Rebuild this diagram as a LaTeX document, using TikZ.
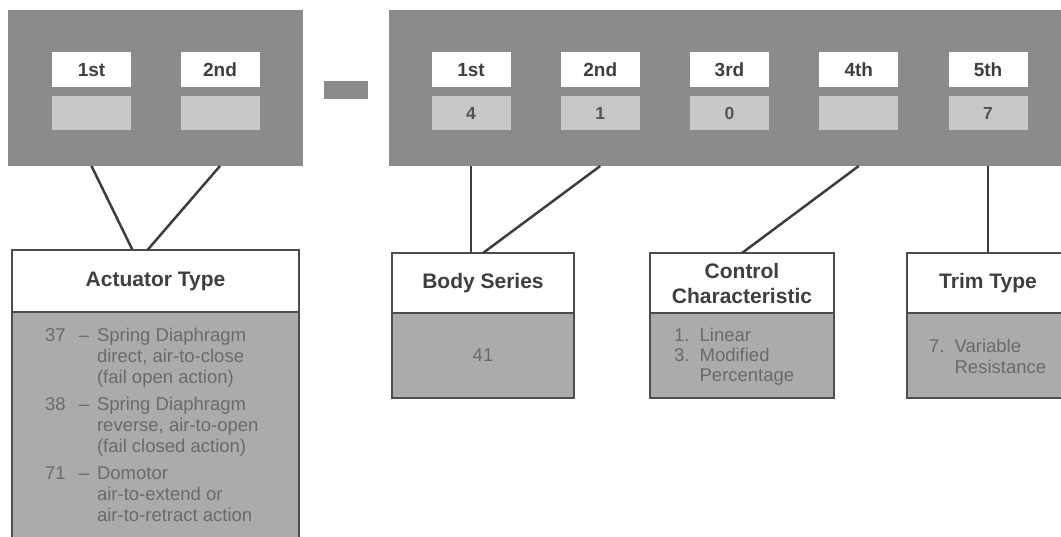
\documentclass[tikz,border=0pt]{standalone}
\usepackage{fontspec}
\setmainfont{Liberation Sans}
\usetikzlibrary{positioning}
\definecolor{panelgray}{HTML}{8B8B8B}
\definecolor{cellgray}{HTML}{C8C8C8}
\definecolor{listgray}{HTML}{ABABAB}
\definecolor{boxline}{HTML}{4D4D4D}
\definecolor{linegray}{HTML}{3D3D3D}
\definecolor{headtext}{HTML}{3F3F3F}
\definecolor{valuetext}{HTML}{555555}
\definecolor{itemtext}{HTML}{6A6A6A}

\begin{document}
\begin{tikzpicture}[x=1pt,y=-1pt]
 \tikzset{panel node/.style={rectangle, fill=panelgray,
 		inner sep=0pt, outer sep=0pt}, }
 \tikzset{digit node/.style={rectangle, fill=white,
 		minimum width=79pt, minimum height=35pt, inner sep=0pt, outer sep=0pt,
 		font=\fontsize{19}{20}\selectfont\bfseries, text=headtext}, }
 \tikzset{value node/.style={rectangle, fill=cellgray,
 		minimum width=79pt, minimum height=34pt, inner sep=0pt, outer sep=0pt,
 		font=\fontsize{17.5}{20}\selectfont\bfseries, text=valuetext}, }
 \tikzset{head node/.style={rectangle, draw=boxline, line width=2pt, fill=white,
 		align=center, inner sep=0pt, outer sep=0pt,
 		font=\fontsize{21}{25}\selectfont\bfseries, text=headtext}, }
 \tikzset{list node/.style={rectangle, draw=boxline, line width=2pt, fill=listgray,
 		inner sep=0pt, outer sep=0pt}, }
 \tikzset{item node/.style={inner sep=0pt, align=left,
 		font=\fontsize{18.5}{21}\selectfont, text=itemtext}, }
 \tikzset{linea/.style={draw=linegray, line width=2.5pt},}
 \useasboundingbox (0,0) rectangle (1061,537);
 \clip (0,0) rectangle (1061,537);
 % code panels
 \node[panel node, minimum width=295pt, minimum height=156pt] (lpanel) at (155.5,88) {};
 \node[panel node, minimum width=44pt, minimum height=18pt] (dash) at (346,90) {};
 \node[panel node, minimum width=681pt, minimum height=156pt] (rpanel) at (729.5,88) {};
 \foreach \n/\x/\t in {1/91.5/1st,2/220/2nd}{
 \node[digit node] (ld\n) at (\x,70) {\t};
 \node[value node] (lv\n)[below=8.5pt of ld\n] {};
 }
 \foreach \n/\x/\t/\v in {1/471/1st/4,2/600.25/2nd/1,3/729.5/3rd/0,4/858.75/4th/{},5/988/5th/7}{
 \node[digit node] (rd\n) at (\x,70) {\t};
 \node[value node] (rv\n)[below=8.5pt of rd\n] {\v};
 }
 % meaning boxes
 \node[head node, minimum width=287pt, minimum height=62pt] (athead) at (155.5,281) {Actuator Type};
 \node[list node, minimum width=287pt, minimum height=240pt] (atlist)[below=0pt of athead] {};
 \node[head node, minimum width=182pt, minimum height=60pt] (bshead) at (483,283) {Body Series};
 \node[list node, minimum width=182pt, minimum height=85pt] (bslist)[below=0pt of bshead] {};
 \node[head node, minimum width=184pt, minimum height=60pt] (cchead) at (742,283) {Control\\Characteristic};
 \node[list node, minimum width=184pt, minimum height=85pt] (cclist)[below=0pt of cchead] {};
 \node[head node, minimum width=162pt, minimum height=60pt] (tthead) at (988,283) {Trim Type};
 \node[list node, minimum width=162pt, minimum height=85pt] (ttlist)[below=0pt of tthead] {};
 \node[item node, anchor=north west] (atitems) at ([xshift=33pt,yshift=-15pt]atlist.north west)
 {\begin{tabular}{@{}r@{\hspace{13pt}}c@{\hspace{8pt}}l@{}}
 37 & -- & Spring Diaphragm\\
  & & direct, air-to-close\\
  & & (fail open action)\\[6pt]
 38 & -- & Spring Diaphragm\\
  & & reverse, air-to-open\\
  & & (fail closed action)\\[6pt]
 71 & -- & Domotor\\
  & & air-to-extend or\\
  & & air-to-retract action
 \end{tabular}};
 \node[item node] (bsitems) at (bslist.center) {41};
 \node[item node, anchor=north west] (ccitems) at ([xshift=24pt,yshift=-14pt]cclist.north west)
 {\fontsize{18.5}{20}\selectfont\begin{tabular}{@{}l@{\hspace{10pt}}l@{}}
 1. & Linear\\
 3. & Modified\\
  & Percentage
 \end{tabular}};
 \node[item node, anchor=north west] (ttitems) at ([xshift=22pt,yshift=-25pt]ttlist.north west)
 {\begin{tabular}{@{}l@{\hspace{10pt}}l@{}}
 7. & Variable\\
  & Resistance
 \end{tabular}};
 % connectors
 \coordinate (lt1) at (lv1 |- lpanel.south);
 \coordinate (lt2) at (lv2 |- lpanel.south);
 \coordinate (rt1) at (rv1 |- rpanel.south);
 \coordinate (rt2) at (rv2 |- rpanel.south);
 \coordinate (rt4) at (rv4 |- rpanel.south);
 \coordinate (rt5) at (rv5 |- rpanel.south);
 \coordinate (ab1) at ([xshift=-23pt]athead.north);
 \coordinate (ab2) at ([xshift=-8pt]athead.north);
 \coordinate (bb1) at (rv1 |- bshead.north);
 \foreach \x /\y in{lt1/ab1,lt2/ab2,rt1/bb1,rt2/bshead.north,rt4/cchead.north,rt5/tthead.north}
 \path[linea] (\x) -- (\y);
\end{tikzpicture}
\end{document}
